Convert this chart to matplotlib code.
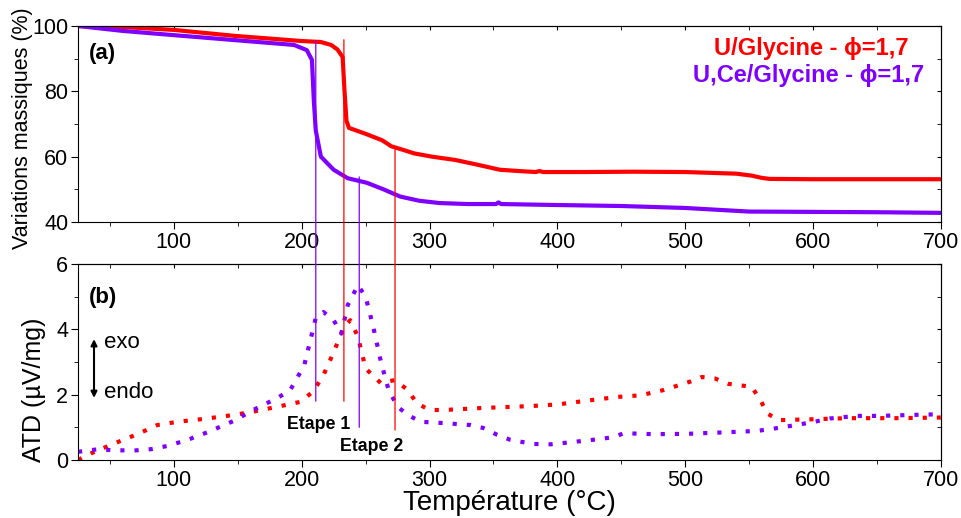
"""
Recreate the TG / ATD figure for U/Glycine and U,Ce/Glycine (phi = 1,7).
Saves out.png.
"""

import matplotlib

matplotlib.use("Agg")

import matplotlib.pyplot as plt
from matplotlib.patches import ConnectionPatch
from matplotlib.ticker import MultipleLocator

plt.rcParams["font.family"] = ["Liberation Sans", "DejaVu Sans"]

RED = "#FF0000"
PURPLE = "#7F00FF"

# ---------------------------------------------------------------------------
# Data
# ---------------------------------------------------------------------------

# (a) mass variation, U/Glycine
tg_u_temp = [25, 60, 100, 147, 200, 215, 223, 228, 232, 233.5, 235, 237, 250,
             263, 270, 280, 288, 302, 320, 338, 355, 370, 383, 386, 389, 420,
             460, 500, 540, 552, 560, 566, 600, 650, 700]
tg_u_mass = [100, 99.7, 98.8, 97.0, 95.4, 95.1, 94.2, 92.8, 90.5, 80.0, 71.0,
             68.8, 67.0, 65.0, 63.2, 62.0, 61.0, 60.0, 59.0, 57.5, 56.0, 55.6,
             55.3, 55.6, 55.3, 55.3, 55.4, 55.3, 54.8, 54.2, 53.5, 53.2, 53.1,
             53.1, 53.1]

# (a) mass variation, U,Ce/Glycine
tg_uce_temp = [25, 60, 100, 147, 194, 204, 208, 209.5, 211, 215, 225, 236,
               251, 264, 277, 292, 308, 330, 352, 354, 356, 400, 450, 500,
               550, 600, 650, 700]
tg_uce_mass = [100, 98.5, 97.2, 95.7, 94.2, 92.6, 89.6, 77.0, 68.0, 60.0,
               56.0, 53.4, 52.0, 50.0, 47.8, 46.5, 45.8, 45.5, 45.5, 46.0,
               45.5, 45.2, 44.9, 44.3, 43.2, 43.1, 43.0, 42.8]

# (b) ATD signal, U/Glycine
atd_u_temp = [25, 35, 53, 72, 87, 103, 126, 147, 162, 181, 199, 209, 217, 225,
              233, 238, 244, 250, 262, 273, 283, 290, 300, 311, 340, 379, 400,
              426, 447, 465, 483, 504, 513, 523, 534, 552, 559, 564, 573, 603,
              626, 665, 700]
atd_u_val = [0.0, 0.2, 0.5, 0.8, 1.07, 1.17, 1.27, 1.38, 1.48, 1.63, 1.78, 2.1,
             2.6, 3.3, 4.07, 4.28, 3.77, 2.8, 2.35, 2.45, 2.14, 1.74, 1.53,
             1.53, 1.59, 1.65, 1.7, 1.83, 1.93, 1.98, 2.14, 2.4, 2.54, 2.5,
             2.33, 2.24, 1.83, 1.43, 1.22, 1.25, 1.28, 1.28, 1.3]

# (b) ATD signal, U,Ce/Glycine
atd_uce_temp = [25, 41, 51, 69, 82, 95, 111, 127, 147, 162, 181, 191, 202,
                211, 217, 225, 231, 236, 244, 250, 256, 262, 268, 275, 283,
                293, 311, 332, 342, 353, 363, 381, 395, 412, 433, 444, 452,
                475, 501, 533, 556, 566, 582, 600, 613, 634, 652, 678, 700]
atd_uce_val = [0.25, 0.33, 0.3, 0.29, 0.33, 0.43, 0.62, 0.86, 1.2, 1.53, 1.9,
               2.14, 2.9, 4.35, 4.53, 4.28, 3.87, 4.74, 5.35, 5.0, 4.07, 3.0,
               2.14, 1.63, 1.38, 1.17, 1.13, 1.07, 0.98, 0.77, 0.62, 0.49, 0.48,
               0.55, 0.64, 0.7, 0.82, 0.79, 0.8, 0.85, 0.89, 0.94, 1.04, 1.16,
               1.27, 1.35, 1.35, 1.38, 1.4]

# Vertical step markers: temperature, colour, top end (mass %), bottom end (ATD)
step_temps = [211, 233, 245, 273]
step_colors = [PURPLE, RED, PURPLE, RED]
step_top = [95.5, 95.8, 53.8, 62.6]
step_bottom = [1.8, 1.8, 1.0, 0.92]

series_labels = ["U/Glycine - \u03d5=1,7", "U,Ce/Glycine - \u03d5=1,7"]


# ---------------------------------------------------------------------------
# Plotting helpers
# ---------------------------------------------------------------------------


def style_axes(ax, xlim, ylim, y_major, y_minor):
    """Outward ticks bottom/left, inward mirror ticks top/right."""
    ax.set_xlim(*xlim)
    ax.set_ylim(*ylim)
    ax.xaxis.set_major_locator(MultipleLocator(100))
    ax.xaxis.set_minor_locator(MultipleLocator(50))
    ax.yaxis.set_major_locator(MultipleLocator(y_major))
    ax.yaxis.set_minor_locator(MultipleLocator(y_minor))
    ax.tick_params(which="both", direction="out", labelsize=15.5, pad=2)
    ax.tick_params(which="major", length=5)
    ax.tick_params(which="minor", length=3)

    top = ax.secondary_xaxis("top")
    top.xaxis.set_major_locator(MultipleLocator(100))
    top.xaxis.set_minor_locator(MultipleLocator(50))
    top.tick_params(which="both", direction="in", labeltop=False, length=3)

    right = ax.secondary_yaxis("right")
    right.yaxis.set_major_locator(MultipleLocator(y_major))
    right.yaxis.set_minor_locator(MultipleLocator(y_minor))
    right.tick_params(which="both", direction="in", labelright=False, length=3)


fig = plt.figure(figsize=(9.61, 5.18), dpi=100)
ax_tg = fig.add_axes([0.0812, 0.5714, 0.8978, 0.3784])
ax_atd = fig.add_axes([0.0812, 0.1120, 0.8978, 0.3783])

# -- (a) TG --
ax_tg.plot(tg_u_temp, tg_u_mass, color=RED, linewidth=3)
ax_tg.plot(tg_uce_temp, tg_uce_mass, color=PURPLE, linewidth=3)
style_axes(ax_tg, (25, 700), (40, 100), 20, 10)
ax_tg.set_ylabel("Variations massiques (%)", fontsize=15.5)
ax_tg.yaxis.set_label_coords(-0.052, 0.48)
ax_tg.text(0.012, 0.86, "(a)", transform=ax_tg.transAxes, fontsize=16,
           fontweight="bold", va="center")
ax_tg.text(0.962, 0.885, series_labels[0], transform=ax_tg.transAxes,
           color=RED, fontsize=17, fontweight="bold", ha="right", va="center")
ax_tg.text(0.981, 0.745, series_labels[1], transform=ax_tg.transAxes,
           color=PURPLE, fontsize=17, fontweight="bold", ha="right",
           va="center")

# -- (b) ATD --
ax_atd.plot(atd_u_temp, atd_u_val, color=RED, linewidth=3,
            linestyle=(0, (1, 2.4)))
ax_atd.plot(atd_uce_temp, atd_uce_val, color=PURPLE, linewidth=3,
            linestyle=(0, (1, 2.4)))
style_axes(ax_atd, (25, 700), (0, 6), 2, 1)
ax_atd.set_ylabel("ATD (\u00b5V/mg)", fontsize=18)
ax_atd.yaxis.set_label_coords(-0.037, 0.357)
ax_atd.set_xlabel("Temp\u00e9rature (\u00b0C)", fontsize=20)
ax_atd.xaxis.set_label_coords(0.5, -0.285)
ax_atd.xaxis.label.set_va("bottom")
ax_atd.text(0.012, 0.83, "(b)", transform=ax_atd.transAxes, fontsize=16,
            fontweight="bold", va="center")

# exo / endo arrow
ax_atd.annotate("", xy=(37.5, 3.7), xytext=(37.5, 1.9),
                arrowprops=dict(arrowstyle="<|-|>", color="black", lw=1.5,
                                mutation_scale=9, shrinkA=0, shrinkB=0))
ax_atd.text(45, 3.6, "exo", fontsize=16, va="center")
ax_atd.text(45, 2.08, "endo", fontsize=16, va="center")

ax_atd.text(213, 1.1, "Etape 1", fontsize=12.8, fontweight="bold",
            ha="center", va="center")
ax_atd.text(255, 0.4, "Etape 2", fontsize=12.8, fontweight="bold",
            ha="center", va="center")

# Step markers spanning both panels
for t, c, ytop, ybot in zip(step_temps, step_colors, step_top, step_bottom):
    con = ConnectionPatch(xyA=(t, ytop), coordsA=ax_tg.transData,
                          xyB=(t, ybot), coordsB=ax_atd.transData,
                          color=c, linewidth=0.9)
    fig.add_artist(con)

fig.savefig("out.png", dpi=100)
